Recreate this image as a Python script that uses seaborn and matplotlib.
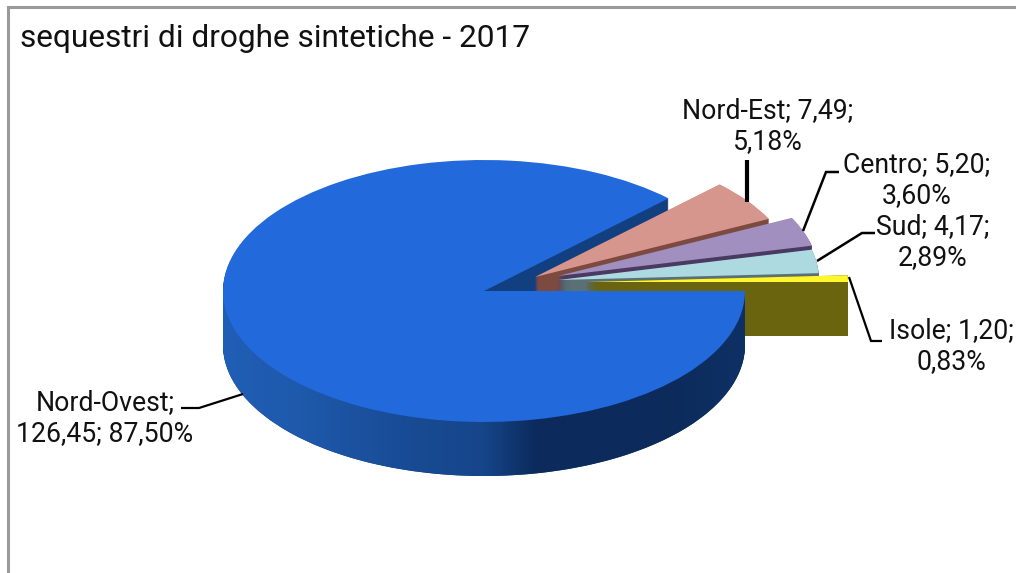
import numpy as np
import matplotlib
matplotlib.use('Agg')
import matplotlib.pyplot as plt
from matplotlib.colors import LinearSegmentedColormap
from matplotlib.patches import Polygon
import seaborn as sns

title = 'sequestri di droghe sintetiche - 2017'
regions = ['Nord-Ovest', 'Nord-Est', 'Centro', 'Sud', 'Isole']
values = ['126,45', '7,49', '5,20', '4,17', '1,20']
percents = [87.50, 5.18, 3.60, 2.89, 0.83]

top_colors = ['#2269DB', '#D6968D', '#A18FC0', '#ADD9E0', '#FFF62E']
side_colors = ['#123F80', '#7D4A40', '#4A3A62', '#5A7075', '#6B640E']

# geometria in pixel dell'immagine
W, H = 1016, 573
CX, CY = 484, 291
RX, RY = 261, 131
DEPTH = 54
apex_px = {1: (535, 277), 2: (558, 276), 3: (558, 280), 4: (587, 282)}


def to_x(px):
    return (px - CX) / RX


def to_y(py):
    return (CY - py) / RY


def one_slice(ax, idx, color, center):
    # pie completa, ma solo la fetta idx ha un colore
    colors = ['none'] * len(percents)
    colors[idx] = color
    ax.pie(percents, colors=colors, startangle=0, counterclock=False, radius=1,
           center=center, wedgeprops={'linewidth': 0})


def solid_slice(ax, idx, apex, step=0.5):
    # le fette sottili vogliono strati piu fitti, altrimenti restano buchi vicino al vertice
    for d in np.arange(DEPTH, 0, -step):
        one_slice(ax, idx, side_colors[idx], (to_x(apex[0]), to_y(apex[1] + d)))
    one_slice(ax, idx, top_colors[idx], (to_x(apex[0]), to_y(apex[1])))


sns.set_theme(style='white')
plt.rcParams['font.family'] = ['Roboto', 'DejaVu Sans']

fig = plt.figure(figsize=(W / 100, H / 100), dpi=100)
ax = fig.add_axes([0, 0, 1, 1])

# faccia di taglio dietro la fetta grande
for d in range(DEPTH, 0, -1):
    one_slice(ax, 0, side_colors[0], (0, to_y(CY + d)))

for i in [1, 2, 3, 4]:
    solid_slice(ax, i, apex_px[i], step=0.15 if i == 4 else 0.5)

# bordo frontale della fetta grande con sfumatura
grad = LinearSegmentedColormap.from_list('side', [
    (0.0, '#205FB6'), (0.15, '#1E59AB'), (0.34, '#194C96'), (0.5, '#16458A'),
    (0.6, '#0C2A5C'), (0.85, '#0C2B5B'), (1.0, '#0E3064')])
t = np.linspace(0, np.pi, 240)
band = np.column_stack([np.cos(t), -np.sin(t) - DEPTH / RY])
band = np.vstack([[1, 0], band, [-1, 0]])
im = ax.imshow(np.linspace(0, 1, 256).reshape(1, -1), cmap=grad, aspect='auto',
               extent=(-1, 1, -1 - DEPTH / RY, 0), zorder=2)
im.set_clip_path(Polygon(band, closed=True, transform=ax.transData))

wedges, _ = ax.pie(percents, colors=[top_colors[0]] + ['none'] * 4, startangle=0,
                   counterclock=False, radius=1, center=(0, 0), wedgeprops={'linewidth': 0})
for w in wedges:
    w.set_zorder(3)

# linee guida
leaders = [
    ([243, 199, 181], [394, 408, 408], 1.6),
    ([747, 747], [202, 160], 3),
    ([803, 826, 839], [231, 172, 172], 1.8),
    ([817, 862, 875], [261, 233, 233], 1.8),
    ([849, 871, 882], [277, 341, 341], 1.6),
]
for xs, ys, lw in leaders:
    ax.plot([to_x(v) for v in xs], [to_y(v) for v in ys], color='black', lw=lw, zorder=4,
            solid_capstyle='butt', solid_joinstyle='miter')


def pct_text(p):
    return f'{p:.2f}'.replace('.', ',') + '%'


label_pos = [(105, 418), (768, 126), (917, 180), (933, 242), (951, 346)]
for i, (r, v, p) in enumerate(zip(regions, values, percents)):
    if i == 0:
        txt = f'{r};\n{v}; {pct_text(p)}'
    else:
        txt = f'{r}; {v};\n{pct_text(p)}'
    ax.text(to_x(label_pos[i][0]), to_y(label_pos[i][1]), txt, ha='center', va='center',
            ma='center', fontsize=19.2, color='#111111', linespacing=1.17, zorder=5)

ax.text(to_x(20), to_y(47), title, ha='left', va='baseline', fontsize=22.8, color='#111111', zorder=5)

# cornice grigia (solo sopra e a sinistra)
ax.plot([to_x(8), to_x(8), to_x(W)], [to_y(H), to_y(7), to_y(7)], color='#9A9A9A', lw=2.2,
        zorder=5, solid_joinstyle='miter')

ax.set_xlim(to_x(0), to_x(W))
ax.set_ylim(to_y(H), to_y(0))
ax.set_aspect('auto')
ax.set_axis_off()

plt.savefig('out.png', dpi=100)
